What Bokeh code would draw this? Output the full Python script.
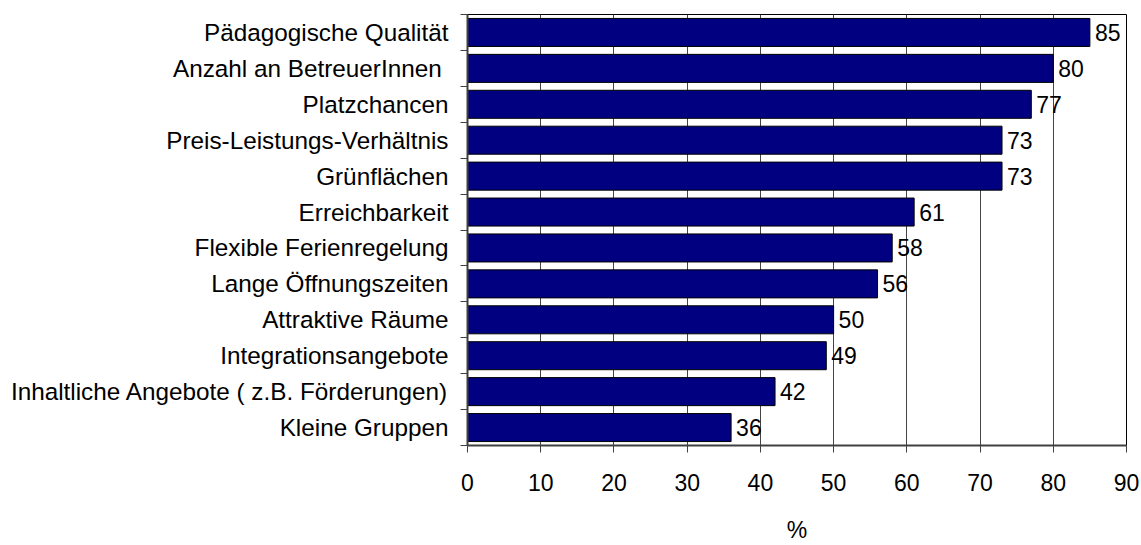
from bokeh.plotting import figure
from bokeh.models import FixedTicker, Range1d, ColumnDataSource
from bokeh.embed import file_html
from bokeh.resources import INLINE
from bokeh.core.properties import value

categories = [
    "Pädagogische Qualität",
    "Anzahl an BetreuerInnen ",
    "Platzchancen",
    "Preis-Leistungs-Verhältnis",
    "Grünflächen",
    "Erreichbarkeit",
    "Flexible Ferienregelung",
    "Lange Öffnungszeiten",
    "Attraktive Räume",
    "Integrationsangebote",
    "Inhaltliche Angebote ( z.B. Förderungen)",
    "Kleine Gruppen",
]
values = [85, 80, 77, 73, 73, 61, 58, 56, 50, 49, 42, 36]
x_ticks = [0, 10, 20, 30, 40, 50, 60, 70, 80, 90]
x_title = "%"

FONT = "Liberation Sans"
FS = "23px"
FS_CAT = "24.3px"

n = len(categories)
centers = [n - i - 0.5 for i in range(n)]
bounds = [float(i) for i in range(n + 1)]

src = ColumnDataSource(dict(
    y=centers, v=values, lab=[str(v) for v in values], cat=categories
))

p = figure(width=1141, height=545, output_backend="svg", toolbar_location=None,
           x_range=Range1d(0, 90), y_range=Range1d(0, n),
           min_border_left=467, min_border_right=15, min_border_top=14,
           min_border_bottom=98, background_fill_color="white",
           border_fill_color="white")

p.hbar(y="y", left=0, right="v", height=0.78, source=src,
       fill_color="#000080", line_color="black", line_width=1)

p.text(x="v", y="y", text="lab", source=src, x_offset=5,
       text_baseline="middle", text_align="left",
       text_font=value(FONT), text_font_size=FS, text_color="black")

# frame
p.outline_line_color = "black"
p.outline_line_width = 1
p.outline_line_alpha = 1

# grid
p.xgrid.ticker = FixedTicker(ticks=x_ticks)
p.xgrid.grid_line_color = "#444444"
p.xgrid.grid_line_width = 1
p.ygrid.grid_line_color = None

# x axis
xa = p.xaxis[0]
xa.ticker = FixedTicker(ticks=x_ticks)
xa.axis_line_color = "#404040"
xa.axis_line_width = 2
xa.major_tick_line_color = "#404040"
xa.major_tick_out = 7
xa.major_tick_in = 0
xa.minor_tick_line_color = None
xa.major_label_text_font = FONT
xa.major_label_text_font_size = FS
xa.major_label_text_color = "black"
xa.major_label_standoff = 21
xa.axis_label = x_title
xa.axis_label_text_font = FONT
xa.axis_label_text_font_size = FS
xa.axis_label_text_font_style = "normal"
xa.axis_label_text_color = "black"
xa.axis_label_standoff = 23

# y axis
ya = p.yaxis[0]
ya.ticker = FixedTicker(ticks=centers, minor_ticks=bounds)
ya.major_label_overrides = {c: name for c, name in zip(centers, categories)}
ya.axis_line_color = "#404040"
ya.axis_line_width = 2
ya.major_tick_out = 0
ya.major_tick_in = 0
ya.major_tick_line_color = None
ya.minor_tick_out = 7
ya.minor_tick_in = 0
ya.minor_tick_line_color = "#404040"
ya.major_label_text_font = FONT
ya.major_label_text_font_size = FS_CAT
ya.major_label_text_color = "black"
ya.major_label_standoff = 12

open("out.html", "w").write(file_html(p, INLINE))
